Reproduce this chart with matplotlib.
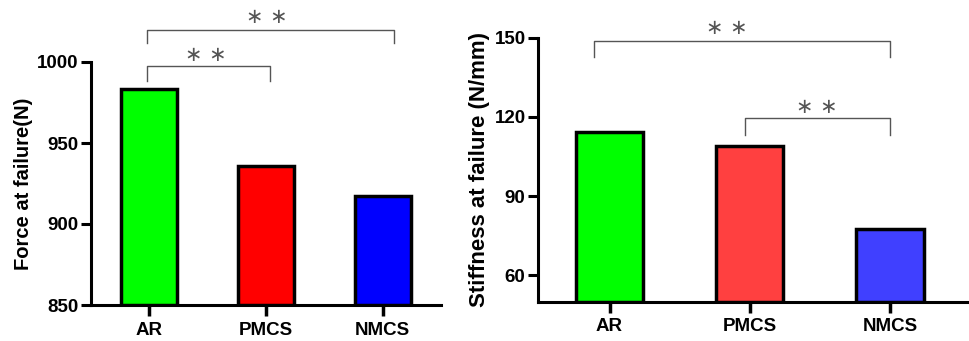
import matplotlib
matplotlib.use("Agg")
import matplotlib.pyplot as plt

plt.rcParams['font.family'] = ['Liberation Sans', 'DejaVu Sans']
plt.rcParams['font.weight'] = 'bold'

groups = ['AR', 'PMCS', 'NMCS']
force = [983.5, 936, 917]
stiffness = [114.4, 109.1, 77.7]
force_colors = ['#00ff00', '#ff0000', '#0000ff']
stiff_colors = ['#00ff00', '#ff4040', '#4040ff']

# brackets: (left x, right x, y of line, y of legs end, star x, star y)
force_sig = [(-0.02, 1.03, 997.5, 988, 0.48, 1004.3),
             (-0.02, 2.1, 1019.8, 1011.5, 1.01, 1027.8)]
stiff_sig = [(-0.11, 2.0, 148.9, 142.6, 0.84, 153.8),
             (0.97, 2.0, 119.6, 113.1, 1.48, 123.7)]

fig = plt.figure(figsize=(9.69, 3.41), dpi=100)
ax1 = fig.add_axes([91/969, 1-305/341, (441-91)/969, (305-62)/341])
ax2 = fig.add_axes([538/969, 1-301.7/341, (967-538)/969, (301.7-37.7)/341])


def draw(ax, vals, colors, ylim, yticks, ylabel, lsize, xlim, sig):
    x = range(len(vals))
    ax.bar(x, [v - ylim[0] for v in vals], bottom=ylim[0], width=0.48,
           color=colors, edgecolor='black', linewidth=2.5, zorder=3)
    ax.set_ylim(ylim)
    ax.set_xlim(xlim)
    ax.set_yticks(yticks)
    ax.set_xticks(list(x))
    ax.set_xticklabels(groups, fontsize=13.5, fontweight='bold')
    ax.set_yticklabels([str(t) for t in yticks], fontsize=13.5, fontweight='bold')
    ax.set_ylabel(ylabel, fontsize=lsize, fontweight='bold', labelpad=3)
    for s in ['top', 'right']:
        ax.spines[s].set_visible(False)
    for s in ['left', 'bottom']:
        ax.spines[s].set_linewidth(2.2)
    ax.tick_params(axis='x', length=8, width=2.5, pad=4)
    ax.tick_params(axis='y', length=7, width=2.2, pad=2)
    for xl, xr, yl, yb, sx, sy in sig:
        ax.plot([xl, xl, xr, xr], [yb, yl, yl, yb], color='#555555',
                linewidth=1.0, clip_on=False)
        ax.text(sx, sy, '∗ ∗', ha='center', va='center', fontsize=15,
                color='#555555', fontweight='normal', family='DejaVu Sans',
                clip_on=False)


draw(ax1, force, force_colors, (850, 1000), [850, 900, 950, 1000],
     'Force at failure(N)', 14.5, (-0.5, 2.5), force_sig)
draw(ax2, stiffness, stiff_colors, (50, 150), [60, 90, 120, 150],
     'Stiffness at failure (N/mm)', 16, (-0.51, 2.55), stiff_sig)

fig.savefig('out.png', dpi=100)
